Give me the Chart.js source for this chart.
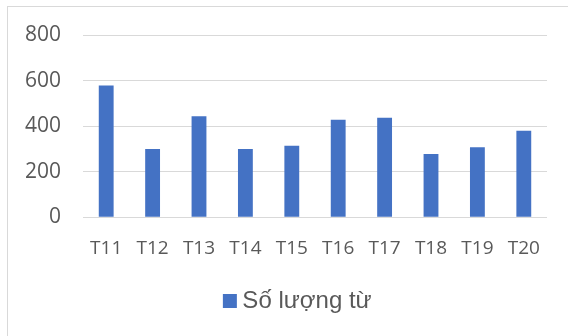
<!DOCTYPE html>
<html><head><meta charset="utf-8">
<script src="https://cdn.jsdelivr.net/npm/chart.js@4"></script>
<style>
html,body{margin:0;padding:0;background:#fff;overflow:hidden}
#wrap{position:absolute;left:0;top:0;width:568px;height:336px}
#frame{position:absolute;left:7px;top:6px;width:620px;height:400px;border:1px solid #d9d9d9;box-sizing:border-box}
canvas{position:absolute;left:0;top:0}
</style></head>
<body>
<div id="wrap"><div id="frame"></div><canvas id="c" width="568" height="336"></canvas></div>
<script>
const categories = ['T11','T12','T13','T14','T15','T16','T17','T18','T19','T20'];
const seriesName = 'Số lượng từ';
const values = [578, 300, 443, 300, 314, 428, 437, 277, 307, 380];
const yTicks = [0, 200, 400, 600, 800];

const shiftLegend = {
  id: 'shiftLegend',
  afterLayout(chart) {
    if (chart.legend) { chart.legend.left += 22; chart.legend.right += 22; }
  }
};

new Chart(document.getElementById('c'), {
  type: 'bar',
  data: {
    labels: categories,
    datasets: [{
      label: seriesName,
      data: values,
      backgroundColor: '#4472C4',
      borderColor: '#4472C4',
      borderWidth: 0,
      barPercentage: 0.32,
      categoryPercentage: 1
    }]
  },
  plugins: [shiftLegend],
  options: {
    responsive: false,
    animation: false,
    devicePixelRatio: 1,
    layout: { padding: { left: 10, right: 21, top: 35, bottom: 13 } },
    plugins: {
      tooltip: { enabled: false },
      legend: {
        position: 'bottom',
        labels: {
          usePointStyle: true, pointStyle: 'rect',
          boxWidth: 1, boxHeight: 14, padding: 10,
          color: '#595959',
          font: { family: '"Liberation Sans", Arial, sans-serif', size: 24 }
        }
      }
    },
    scales: {
      x: {
        grid: { display: false, drawTicks: false },
        border: { display: false },
        ticks: { color: '#595959', padding: 19.5, font: { family: '"Open Sans", sans-serif', size: 19 }, maxRotation: 0 }
      },
      y: {
        min: yTicks[0], max: yTicks[yTicks.length - 1],
        afterFit: s => { s.width = 73; },
        afterBuildTicks: s => { s.ticks = yTicks.map(v => ({ value: v })); },
        grid: { color: '#d9d9d9', lineWidth: 1, drawTicks: false },
        border: { display: false },
        ticks: { color: '#595959', padding: 22, font: { family: '"Open Sans", sans-serif', size: 21 } }
      }
    }
  }
});
</script>
</body></html>
